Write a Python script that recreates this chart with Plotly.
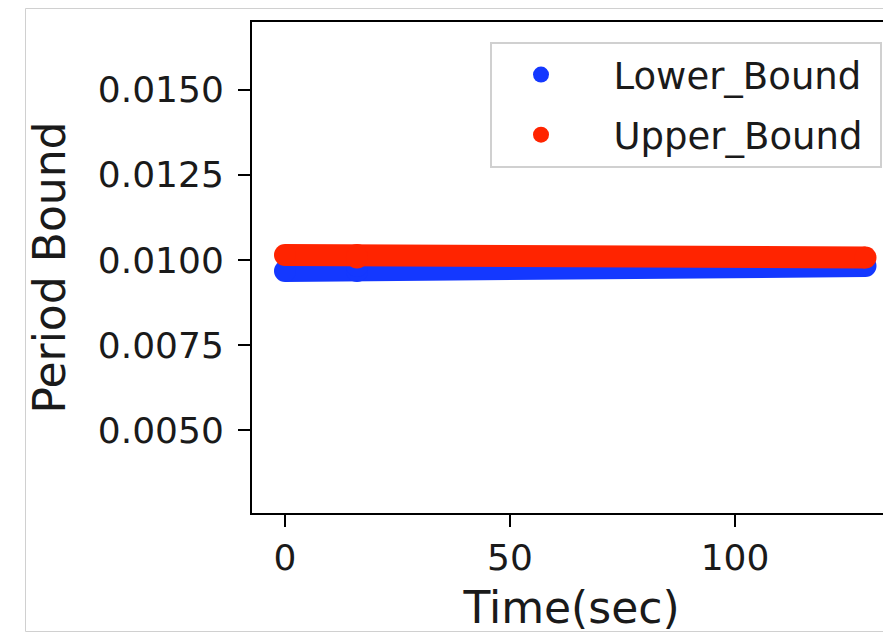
import plotly.graph_objects as go

# Data (piecewise-constant bounds)
time_sec = [0, 16, 16, 129]
lower_bound = [0.009674, 0.009674, 0.009821, 0.009821]
upper_bound = [0.010144, 0.010144, 0.010070, 0.010070]

x_ticks = [0, 50, 100]
y_ticks = [0.0050, 0.0075, 0.0100, 0.0125, 0.0150]
y_tick_text = ["0.0050", "0.0075", "0.0100", "0.0125", "0.0150"]

BLUE = "#1438ff"
RED = "#ff2400"
FONT = "DejaVu Sans, sans-serif"
NB = "\u00a0"

fig = go.Figure()
fig.add_trace(go.Scatter(
    x=time_sec, y=lower_bound, name="Lower_Bound", mode="lines+markers",
    line=dict(color=BLUE, width=22), marker=dict(color=BLUE, size=22),
    showlegend=False,
))
fig.add_trace(go.Scatter(
    x=time_sec, y=upper_bound, name="Upper_Bound", mode="lines+markers",
    line=dict(color=RED, width=22), marker=dict(color=RED, size=22),
    showlegend=False,
))
# legend entries (marker-only, like a scatter legend)
fig.add_trace(go.Scatter(
    x=[None], y=[None], name=NB * 2 + "Lower_Bound" + NB, mode="markers",
    marker=dict(color=BLUE, size=22), legendgroup="lo",
))
fig.add_trace(go.Scatter(
    x=[None], y=[None], name=NB * 2 + "Upper_Bound" + NB, mode="markers",
    marker=dict(color=RED, size=22), legendgroup="up",
))

# the page has an 8px body margin; work in page pixels
OFF = 8
W, H = 891 - OFF, 633 - OFF
L, T = 252 - OFF, 22 - OFF
B = H - (513 - OFF)
pw = W - L
ph = H - T - B

def px_x(p):
    return (p - OFF - L) / pw

def px_y(p):
    return (H - B - (p - OFF)) / ph

fig.update_layout(
    width=W, height=H,
    margin=dict(l=L, r=0, t=T, b=B, pad=0),
    paper_bgcolor="white", plot_bgcolor="white",
    font=dict(family=FONT, size=36, color="#1a1a1a"),
    showlegend=True,
    legend=dict(
        x=px_x(490), y=px_y(42), xanchor="left", yanchor="top",
        bgcolor="white", bordercolor="#d0d0d0", borderwidth=2,
        font=dict(family=FONT, size=37, color="#1a1a1a"),
        itemsizing="trace", itemwidth=88, tracegroupgap=9,
    ),
    xaxis=dict(
        range=[-7.33, 134.67], tickvals=x_ticks,
        showline=True, linecolor="black", linewidth=2, mirror=True,
        ticks="outside", ticklen=12, tickwidth=2, tickcolor="black",
        showgrid=False, zeroline=False,
        title=dict(text="Time(sec)", font=dict(size=44, family=FONT), standoff=20),
    ),
    yaxis=dict(
        range=[0.002573, 0.016981], tickvals=y_ticks, ticktext=y_tick_text,
        showline=True, linecolor="black", linewidth=2, mirror=False,
        ticks="outside", ticklen=12, tickwidth=2, tickcolor="black",
        ticklabelstandoff=7,
        showgrid=False, zeroline=False,
        title=dict(text="Period Bound", font=dict(size=44, family=FONT), standoff=18),
    ),
    shapes=[
        dict(type="rect", xref="paper", yref="paper",
             x0=px_x(25.5), x1=px_x(1000), y0=px_y(631.5), y1=px_y(8.5),
             line=dict(color="#d0d0d0", width=1), fillcolor="rgba(0,0,0,0)",
             layer="below"),
    ],
)

fig.write_html("out.html")
